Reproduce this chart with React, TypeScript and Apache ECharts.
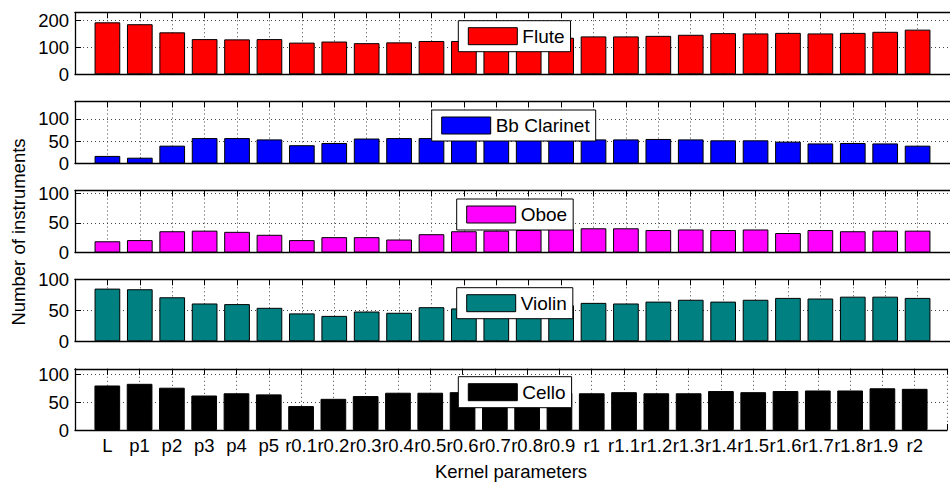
import React, { useEffect, useRef } from "react";
import * as echarts from "echarts";

const categories = [
  "L", "p1", "p2", "p3", "p4", "p5",
  "r0.1", "r0.2", "r0.3", "r0.4", "r0.5", "r0.6", "r0.7", "r0.8", "r0.9",
  "r1", "r1.1", "r1.2", "r1.3", "r1.4", "r1.5", "r1.6", "r1.7", "r1.8", "r1.9", "r2",
];

const flute = [192, 185, 155, 130, 129, 130, 117, 121, 115, 118, 123, 123, 127, 131, 135, 140, 140, 142, 146, 152, 151, 153, 151, 153, 157, 165];
const clarinet = [17, 13, 40, 57, 57, 54, 41, 46, 56, 57, 57, 56, 55, 55, 55, 54, 54, 55, 54, 52, 52, 49, 45, 46, 45, 40];
const oboe = [19, 21, 36, 37, 35, 30, 21, 26, 26, 22, 31, 36, 37, 38, 40, 41, 41, 38, 39, 38, 39, 33, 38, 36, 37, 37];
const violin = [85, 84, 71, 61, 60, 54, 45, 41, 48, 46, 55, 53, 55, 56, 58, 62, 61, 64, 67, 64, 67, 70, 69, 72, 72, 70];
const cello = [80, 83, 76, 62, 66, 64, 43, 56, 61, 67, 67, 68, 68, 67, 67, 66, 68, 66, 66, 70, 68, 70, 71, 71, 75, 74];

const seriesNames = ["Flute", "Bb Clarinet", "Oboe", "Violin", "Cello"];
const seriesValues = [flute, clarinet, oboe, violin, cello];
const colors = ["#ff0000", "#0000ff", "#ff00ff", "#008080", "#000000"];
const yMax = [229, 139, 105, 100, 110];
const yInterval = [100, 50, 50, 50, 50];

const FONT = "'Liberation Sans', Arial, Helvetica, sans-serif";

export default function App() {
  const ref = useRef<HTMLDivElement>(null);
  useEffect(() => {
    if (!ref.current) return;
    const chart = echarts.init(ref.current, null, { renderer: "svg" });
    const gridTops = [12.3, 101.5, 190.5, 279.3, 368.8];
    const gridH = 62;
    const legendPos = [
      [458.3, 20.7],
      [431.7, 110],
      [456.7, 199],
      [456.7, 287.7],
      [458.3, 376.7],
    ];
    const grids: any[] = [];
    const xAxes: any[] = [];
    const yAxes: any[] = [];
    const series: any[] = [];
    const legends: any[] = [];
    const dotted = { color: "#444", width: 1, type: [1, 3] };
    seriesNames.forEach((name, i) => {
      grids.push({ left: 75, right: -4.4, top: gridTops[i], height: gridH, containLabel: false });
      const isLast = i === seriesNames.length - 1;
      xAxes.push({
        type: "value",
        gridIndex: i,
        position: "bottom",
        min: 0,
        max: 27,
        interval: 1,
        axisLine: { show: true, lineStyle: { color: "#000", width: 1.3 } },
        axisTick: { show: true, inside: true, length: 6, lineStyle: { color: "#000" } },
        splitLine: { show: true, lineStyle: dotted },
        axisLabel: {
          show: isLast,
          margin: 6,
          color: "#000",
          fontSize: 18.5,
          fontFamily: FONT,
          formatter: (v: number) => categories[Math.round(v) - 1] ?? "",
        },
        name: isLast ? "Kernel parameters" : "",
        nameLocation: "middle",
        nameGap: 32,
        nameTextStyle: { color: "#000", fontSize: 18.5, fontFamily: FONT },
      });
      xAxes.push({
        type: "value",
        gridIndex: i,
        position: "top",
        min: 0,
        max: 27,
        interval: 1,
        axisLine: { show: true, lineStyle: { color: "#000", width: 1.3 } },
        axisTick: { show: true, inside: true, length: 6, lineStyle: { color: "#000" } },
        splitLine: { show: false },
        axisLabel: { show: false },
      });
      const iv = yInterval[i];
      yAxes.push({
        type: "value",
        gridIndex: i,
        min: 0,
        max: yMax[i],
        interval: iv,
        axisLine: { show: true, lineStyle: { color: "#000", width: 1.3 } },
        axisTick: { show: true, inside: true, length: 6, lineStyle: { color: "#000" } },
        splitLine: { show: true, lineStyle: dotted },
        axisLabel: {
          margin: 6,
          color: "#000",
          fontSize: 18.5,
          fontFamily: FONT,
          formatter: (v: number) => (Math.abs(v % iv) < 1e-9 ? String(v) : ""),
        },
      });
      series.push({
        type: "bar",
        name,
        xAxisIndex: 2 * i,
        yAxisIndex: i,
        barWidth: 25.7,
        data: seriesValues[i].map((v, k) => [k + 1, v]),
        itemStyle: { color: colors[i], borderColor: "#000", borderWidth: 1 },
      });
      legends.push({
        data: [name],
        left: legendPos[i][0],
        top: legendPos[i][1],
        orient: "horizontal",
        backgroundColor: "#fff",
        borderColor: "#000",
        borderWidth: 1,
        borderRadius: 0,
        padding: [6, 6, 6, 9.5],
        itemWidth: 49,
        itemHeight: 17,
        icon: "rect",
        selectedMode: false,
        textStyle: { color: "#000", fontSize: 19, fontFamily: FONT, lineHeight: 17 },
        itemStyle: { borderColor: "#000", borderWidth: 1 },
      });
    });
    chart.setOption({
      animation: false,
      backgroundColor: "#fff",
      grid: grids,
      xAxis: xAxes,
      yAxis: yAxes,
      series,
      legend: legends,
      graphic: [
        {
          type: "text",
          x: 18,
          y: 232,
          rotation: Math.PI / 2,
          style: {
            text: "Number of instruments",
            fill: "#000",
            fontSize: 18.5,
            fontFamily: FONT,
            align: "center",
            verticalAlign: "middle",
          },
        },
      ],
    });
    return () => chart.dispose();
  }, []);
  return (
    <div
      ref={ref}
      style={{ position: "fixed", left: 0, top: 0, width: 950, height: 482, background: "#fff" }}
    />
  );
}
